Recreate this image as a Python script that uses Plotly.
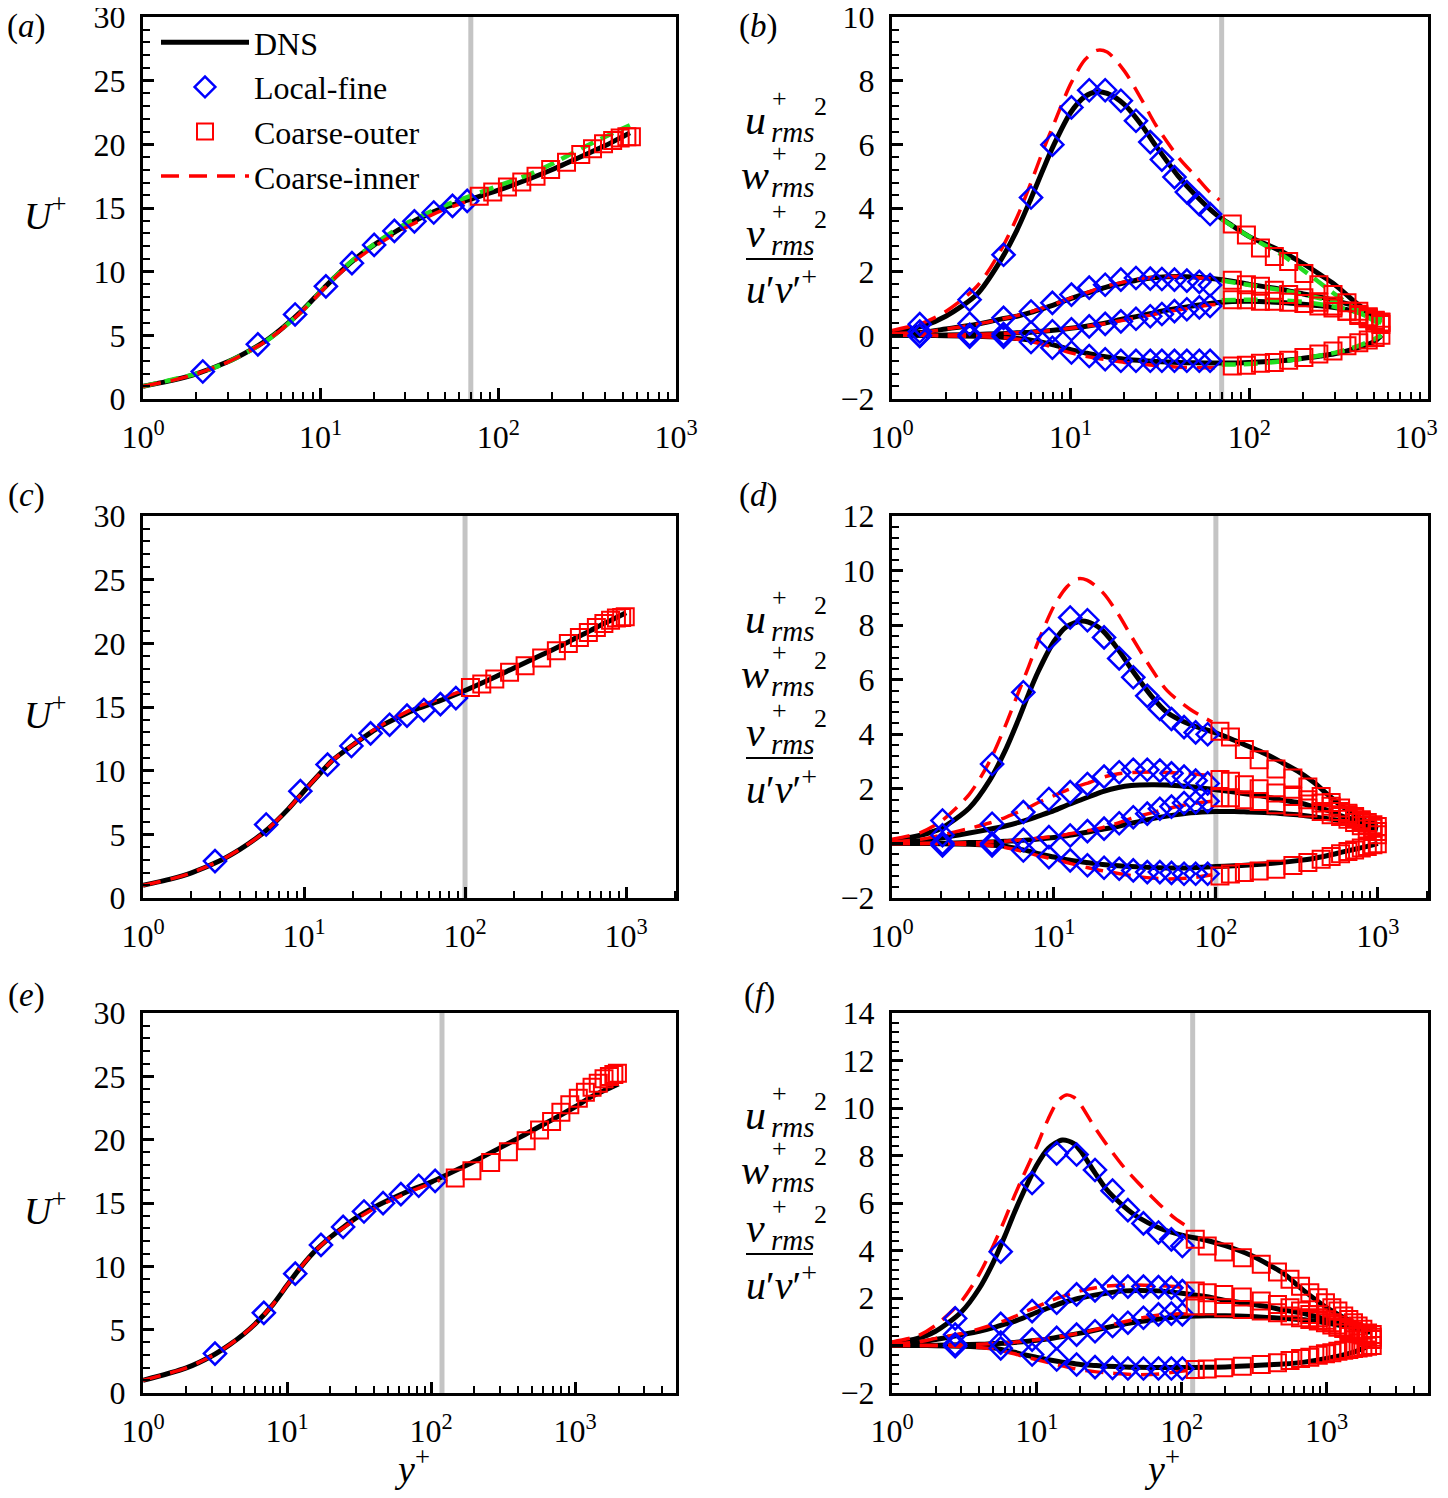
import plotly.graph_objects as go

# page is shown with the default 8 px body margin: the figure starts 8 px in
# and is sized so that it ends at the window edge
PAGE_W, PAGE_H = 1448, 1498
OFF = 8
W, H = PAGE_W - OFF, PAGE_H - OFF
FONT = "Liberation Serif"

# ── DATA ─────────────────────────────────────────────────────────
# interface location y+ per Reynolds number (grey line)
iface = [70, 100, 119]

# (a) mean velocity, Re_tau ~ 550
a_dns_y = [1, 1.5, 2, 3, 4, 5, 6, 8, 10, 12, 15, 20, 25, 30, 40, 50, 70, 100, 150, 200, 300, 400, 500, 550]
a_dns_u = [1.0, 1.5, 1.98, 2.92, 3.82, 4.65, 5.5, 7.05, 8.45, 9.55, 10.8, 12.1, 12.95, 13.6, 14.5, 15.05, 15.7, 16.4, 17.3, 18.0, 19.1, 19.9, 20.6, 20.9]
a_inner_y = [1, 1.5, 2, 3, 4, 5, 6, 8, 10, 12, 15, 20, 25, 30, 40, 50, 65]
a_inner_u = [1.0, 1.5, 1.98, 2.9, 3.8, 4.6, 5.45, 7.0, 8.4, 9.5, 10.7, 11.95, 12.8, 13.45, 14.3, 14.9, 15.45]
a_green_y = [1, 2, 3, 5, 8, 10, 15, 20, 30, 50, 70, 100, 150, 200, 300, 400, 550]
a_green_u = [1.0, 2.0, 2.9, 4.6, 7.0, 8.45, 10.85, 12.15, 13.75, 15.2, 15.95, 16.75, 17.65, 18.45, 19.75, 20.6, 21.5]
a_fine_y = [2.17, 4.43, 7.18, 10.7, 15.0, 20.0, 26.0, 33.7, 43.3, 55.2, 66.8]
a_fine_u = [2.16, 4.29, 6.64, 8.85, 10.67, 12.1, 13.2, 13.95, 14.65, 15.17, 15.56]
a_outer_y = [78.1, 93, 112.5, 135.5, 163, 197, 242, 291, 339, 391, 440, 485, 529, 561]
a_outer_u = [15.93, 16.26, 16.65, 17.04, 17.5, 18.03, 18.6, 19.2, 19.65, 20.04, 20.3, 20.5, 20.6, 20.6]

# (b) Reynolds stresses, Re_tau ~ 550
b_dns_y = [1, 1.5, 2, 3, 4, 5, 6, 7, 8, 10, 12, 14, 16, 20, 25, 30, 40, 50, 65, 80, 100, 150, 200, 250, 300, 400, 500, 550]
b_dns_uu = [0.1, 0.3, 0.6, 1.3, 2.3, 3.3, 4.3, 5.2, 5.95, 7.0, 7.5, 7.65, 7.6, 7.25, 6.6, 5.95, 5.0, 4.4, 3.8, 3.45, 3.1, 2.65, 2.25, 1.9, 1.6, 1.0, 0.6, 0.5]
b_dns_ww = [0.05, 0.1, 0.2, 0.35, 0.5, 0.6, 0.72, 0.84, 0.95, 1.15, 1.3, 1.42, 1.52, 1.65, 1.76, 1.82, 1.85, 1.83, 1.77, 1.7, 1.6, 1.45, 1.3, 1.2, 1.1, 0.9, 0.7, 0.6]
b_dns_vv = [0.0, 0.0, 0.01, 0.03, 0.05, 0.08, 0.1, 0.13, 0.16, 0.22, 0.28, 0.34, 0.4, 0.52, 0.62, 0.72, 0.85, 0.94, 1.02, 1.06, 1.07, 1.03, 0.98, 0.93, 0.87, 0.75, 0.62, 0.55]
b_dns_uv = [0.0, 0.0, -0.01, -0.03, -0.05, -0.1, -0.15, -0.22, -0.3, -0.45, -0.55, -0.63, -0.68, -0.75, -0.79, -0.82, -0.85, -0.86, -0.87, -0.87, -0.85, -0.8, -0.72, -0.65, -0.58, -0.4, -0.2, 0.0]
b_inner_y = [1, 1.5, 2, 3, 4, 5, 6, 7, 8, 10, 12, 14, 16, 20, 25, 30, 40, 50, 60, 68]
b_inner_uu = [0.15, 0.4, 0.75, 1.55, 2.6, 3.7, 4.8, 5.8, 6.6, 7.9, 8.65, 8.95, 8.9, 8.3, 7.4, 6.6, 5.6, 5.0, 4.5, 4.25]
b_inner_ww = [0.05, 0.1, 0.2, 0.35, 0.5, 0.62, 0.74, 0.86, 0.97, 1.17, 1.32, 1.45, 1.55, 1.68, 1.78, 1.83, 1.85, 1.82, 1.78, 1.75]
b_inner_vv = [0.0, 0.0, 0.01, 0.03, 0.05, 0.08, 0.1, 0.13, 0.16, 0.22, 0.28, 0.33, 0.38, 0.48, 0.58, 0.67, 0.8, 0.88, 0.95, 0.98]
b_inner_uv = [0.0, 0.0, -0.02, -0.04, -0.07, -0.12, -0.2, -0.28, -0.38, -0.55, -0.65, -0.72, -0.77, -0.85, -0.9, -0.95, -1.0, -1.02, -1.02, -1.02]
b_green_y = [70, 100, 150, 200, 300, 400, 500, 550]
b_green_uu = [3.65, 3.1, 2.55, 2.05, 1.3, 0.8, 0.45, 0.35]
b_green_ww = [1.72, 1.58, 1.42, 1.28, 1.05, 0.8, 0.6, 0.5]
b_green_vv = [1.1, 1.12, 1.1, 1.05, 0.9, 0.72, 0.5, 0.4]
b_green_uv = [-0.92, -0.9, -0.82, -0.72, -0.55, -0.35, -0.12, 0.0]
b_fine_y = [1.43, 2.72, 4.21, 6.0, 7.9, 10.1, 12.7, 15.6, 19.1, 23.2, 27.9, 32.4, 38.1, 44.7, 52.5, 60.3]
b_fine_uu = [0.35, 1.12, 2.53, 4.33, 5.99, 7.16, 7.7, 7.7, 7.37, 6.74, 6.07, 5.52, 4.97, 4.5, 4.12, 3.81]
b_fine_ww = [0.12, 0.37, 0.55, 0.75, 1.02, 1.28, 1.5, 1.59, 1.75, 1.8, 1.78, 1.77, 1.75, 1.72, 1.68, 1.58]
b_fine_vv = [0.0, 0.02, 0.04, 0.08, 0.13, 0.19, 0.28, 0.36, 0.44, 0.52, 0.6, 0.67, 0.76, 0.82, 0.88, 0.92]
b_fine_uv = [-0.02, -0.04, -0.04, -0.21, -0.39, -0.54, -0.65, -0.75, -0.8, -0.8, -0.8, -0.8, -0.8, -0.8, -0.8, -0.8]
b_outer_y = [80.3, 96.3, 115.4, 138, 166, 202, 245, 294, 352, 410, 463, 506, 545]
b_outer_uu = [3.5, 3.15, 2.74, 2.48, 2.32, 1.94, 1.59, 1.28, 1.02, 0.76, 0.58, 0.47, 0.4]
b_outer_ww = [1.73, 1.59, 1.54, 1.42, 1.28, 1.18, 1.04, 0.92, 0.76, 0.62, 0.52, 0.45, 0.42]
b_outer_vv = [1.12, 1.12, 1.07, 1.07, 1.04, 1.0, 0.92, 0.86, 0.76, 0.66, 0.55, 0.45, 0.34]
b_outer_uv = [-0.96, -0.94, -0.88, -0.85, -0.78, -0.7, -0.59, -0.49, -0.33, -0.23, -0.15, -0.07, 0.0]

# (c) mean velocity, Re_tau ~ 1000
c_dns_y = [1, 1.5, 2, 3, 4, 5, 6, 8, 10, 12, 15, 20, 25, 30, 40, 50, 70, 100, 150, 200, 300, 400, 500, 600, 700, 800, 1000]
c_dns_u = [1.0, 1.5, 1.98, 2.92, 3.82, 4.65, 5.45, 7.0, 8.4, 9.5, 10.8, 12.0, 12.85, 13.5, 14.3, 14.85, 15.5, 16.3, 17.3, 18.05, 19.1, 19.85, 20.5, 21.0, 21.45, 21.8, 22.4]
c_inner_y = [1, 1.5, 2, 3, 4, 5, 6, 8, 10, 12, 15, 20, 25, 30, 40, 50, 70, 100]
c_inner_u = [1.0, 1.5, 1.98, 2.92, 3.82, 4.65, 5.45, 7.0, 8.4, 9.5, 10.8, 12.0, 12.9, 13.55, 14.4, 15.0, 15.65, 16.35]
c_fine_y = [2.8, 5.82, 9.49, 14.0, 19.7, 25.9, 34.0, 43.6, 55.5, 70.3, 87.7]
c_fine_u = [2.9, 5.77, 8.39, 10.48, 11.94, 12.93, 13.61, 14.32, 14.76, 15.23, 15.7]
c_outer_y = [108, 127, 153, 189, 236, 299, 369, 438, 513, 583, 654, 728, 801, 871, 939, 988]
c_outer_u = [16.54, 16.8, 17.19, 17.72, 18.24, 18.84, 19.42, 19.99, 20.46, 20.85, 21.24, 21.56, 21.82, 21.98, 22.03, 22.08]

# (d) Reynolds stresses, Re_tau ~ 1000
d_dns_y = [1, 1.5, 2, 3, 4, 5, 6, 7, 8, 10, 12, 15, 18, 20, 25, 30, 40, 50, 70, 100, 130, 160, 200, 250, 320, 400, 500, 600, 700, 850, 1000]
d_dns_uu = [0.1, 0.3, 0.55, 1.3, 2.3, 3.4, 4.5, 5.5, 6.3, 7.4, 7.95, 8.15, 8.0, 7.8, 7.1, 6.4, 5.4, 4.8, 4.35, 4.05, 3.78, 3.55, 3.3, 3.0, 2.65, 2.25, 1.75, 1.36, 1.1, 0.82, 0.7]
d_dns_ww = [0.05, 0.1, 0.2, 0.38, 0.52, 0.64, 0.76, 0.88, 1.0, 1.2, 1.4, 1.62, 1.8, 1.9, 2.05, 2.12, 2.15, 2.14, 2.08, 1.97, 1.88, 1.8, 1.72, 1.6, 1.5, 1.35, 1.2, 1.0, 0.88, 0.7, 0.55]
d_dns_vv = [0.0, 0.0, 0.01, 0.03, 0.05, 0.08, 0.1, 0.13, 0.16, 0.22, 0.28, 0.38, 0.47, 0.52, 0.63, 0.74, 0.9, 1.0, 1.12, 1.17, 1.17, 1.15, 1.13, 1.1, 1.05, 0.98, 0.9, 0.82, 0.74, 0.6, 0.5]
d_dns_uv = [0.0, 0.0, -0.01, -0.03, -0.06, -0.1, -0.2, -0.28, -0.38, -0.5, -0.6, -0.68, -0.74, -0.77, -0.82, -0.85, -0.88, -0.9, -0.9, -0.85, -0.82, -0.79, -0.75, -0.7, -0.63, -0.55, -0.43, -0.32, -0.23, -0.12, 0.0]
d_inner_y = [1, 1.5, 2, 3, 4, 5, 6, 7, 8, 10, 12, 14, 16, 20, 25, 30, 40, 50, 70, 95]
d_inner_uu = [0.15, 0.4, 0.8, 1.8, 3.0, 4.3, 5.5, 6.5, 7.4, 8.7, 9.4, 9.7, 9.65, 9.2, 8.4, 7.6, 6.4, 5.6, 4.9, 4.45]
d_inner_ww = [0.05, 0.15, 0.3, 0.55, 0.75, 0.95, 1.15, 1.32, 1.5, 1.75, 1.95, 2.1, 2.2, 2.42, 2.55, 2.6, 2.62, 2.6, 2.55, 2.48]
d_inner_vv = [0.0, 0.0, 0.01, 0.03, 0.05, 0.08, 0.12, 0.15, 0.19, 0.26, 0.33, 0.4, 0.46, 0.58, 0.75, 0.92, 1.12, 1.27, 1.45, 1.55]
d_inner_uv = [0.0, 0.0, -0.01, -0.04, -0.08, -0.15, -0.25, -0.35, -0.45, -0.58, -0.7, -0.8, -0.88, -1.0, -1.1, -1.18, -1.27, -1.3, -1.26, -1.15]
d_fine_y = [2.05, 4.15, 6.47, 9.31, 12.6, 16.1, 20.4, 25.3, 30.9, 37.7, 45.1, 53.2, 63.6, 75, 89]
d_fine_uu = [0.84, 2.91, 5.54, 7.49, 8.28, 8.18, 7.55, 6.78, 6.09, 5.41, 4.93, 4.56, 4.26, 4.07, 4.0]
d_fine_ww = [0.3, 0.72, 1.15, 1.63, 1.88, 2.18, 2.45, 2.61, 2.7, 2.7, 2.67, 2.57, 2.45, 2.3, 2.2]
d_fine_vv = [0.01, 0.0, 0.13, 0.23, 0.29, 0.45, 0.54, 0.74, 0.96, 1.09, 1.27, 1.35, 1.48, 1.51, 1.55]
d_fine_uv = [-0.07, -0.07, -0.26, -0.5, -0.62, -0.8, -0.89, -0.93, -0.99, -1.05, -1.05, -1.08, -1.11, -1.11, -1.11]
d_outer_y = [106, 123, 150, 185, 235, 299, 370, 447, 515, 589, 654, 719, 791, 861, 933, 993]
d_outer_uu = [4.11, 3.9, 3.44, 3.07, 2.73, 2.4, 2.07, 1.72, 1.5, 1.3, 1.11, 0.99, 0.87, 0.77, 0.68, 0.62]
d_outer_ww = [2.34, 2.28, 2.15, 2.0, 1.85, 1.72, 1.6, 1.48, 1.36, 1.17, 1.05, 0.93, 0.8, 0.68, 0.56, 0.44]
d_outer_vv = [1.67, 1.67, 1.6, 1.54, 1.42, 1.36, 1.3, 1.17, 1.05, 0.99, 0.89, 0.77, 0.65, 0.53, 0.44, 0.32]
d_outer_uv = [-1.19, -1.12, -1.07, -1.01, -0.95, -0.81, -0.7, -0.58, -0.48, -0.38, -0.3, -0.24, -0.17, -0.11, -0.05, -0.01]

# (e) mean velocity, Re_tau ~ 2000
e_dns_y = [1, 2, 3, 4, 5, 6, 8, 10, 12, 15, 20, 25, 30, 40, 50, 70, 100, 150, 200, 300, 400, 500, 700, 1000, 1300, 1600, 2000]
e_dns_u = [1.0, 1.98, 2.92, 3.82, 4.65, 5.45, 7.0, 8.5, 9.7, 11.0, 12.3, 13.15, 13.8, 14.65, 15.2, 15.95, 16.65, 17.6, 18.3, 19.35, 20.1, 20.7, 21.6, 22.6, 23.4, 23.9, 24.4]
e_inner_y = [1, 2, 3, 4, 5, 6, 8, 10, 12, 15, 20, 25, 30, 40, 50, 70, 100, 115]
e_inner_u = [1.0, 1.98, 2.92, 3.82, 4.65, 5.45, 7.0, 8.5, 9.7, 11.0, 12.3, 13.1, 13.7, 14.55, 15.1, 15.85, 16.55, 16.8]
e_fine_y = [3.16, 6.9, 11.4, 17.2, 24.5, 34.2, 46.4, 61.7, 82, 106.6]
e_fine_u = [3.11, 6.33, 9.42, 11.69, 13.11, 14.33, 14.99, 15.7, 16.36, 16.75]
e_outer_y = [147, 192, 259, 344, 457, 566, 686, 796, 918, 1052, 1178, 1310, 1446, 1586, 1728, 1856, 1965]
e_outer_u = [16.97, 17.55, 18.2, 19.05, 19.92, 20.77, 21.43, 22.17, 22.75, 23.27, 23.75, 24.14, 24.46, 24.8, 24.99, 25.15, 25.25]

# (f) Reynolds stresses, Re_tau ~ 2000
f_dns_y = [1, 1.5, 2, 3, 4, 5, 6, 7, 8, 10, 12, 15, 18, 20, 25, 30, 40, 50, 70, 100, 150, 200, 300, 400, 500, 700, 1000, 1500, 2000]
f_dns_uu = [0.1, 0.3, 0.6, 1.4, 2.4, 3.5, 4.6, 5.6, 6.4, 7.6, 8.3, 8.65, 8.5, 8.2, 7.3, 6.6, 5.85, 5.4, 4.95, 4.65, 4.42, 4.2, 3.8, 3.4, 3.05, 2.3, 1.6, 1.0, 0.7]
f_dns_ww = [0.05, 0.12, 0.25, 0.45, 0.6, 0.75, 0.9, 1.02, 1.15, 1.4, 1.58, 1.8, 1.93, 2.0, 2.12, 2.2, 2.3, 2.32, 2.3, 2.2, 2.05, 1.9, 1.75, 1.62, 1.5, 1.35, 1.1, 0.8, 0.6]
f_dns_vv = [0.0, 0.0, 0.01, 0.03, 0.05, 0.08, 0.1, 0.13, 0.16, 0.22, 0.28, 0.38, 0.47, 0.52, 0.64, 0.75, 0.9, 1.0, 1.12, 1.22, 1.25, 1.25, 1.22, 1.18, 1.15, 1.08, 0.95, 0.75, 0.55]
f_dns_uv = [0.0, 0.0, -0.01, -0.03, -0.06, -0.1, -0.2, -0.28, -0.38, -0.5, -0.6, -0.7, -0.76, -0.8, -0.84, -0.87, -0.9, -0.92, -0.93, -0.93, -0.92, -0.9, -0.85, -0.81, -0.78, -0.7, -0.55, -0.3, 0.0]
f_inner_y = [1, 1.5, 2, 3, 4, 5, 6, 7, 8, 10, 12, 14, 16, 18, 20, 25, 30, 40, 50, 70, 90, 110]
f_inner_uu = [0.15, 0.4, 0.85, 1.85, 3.0, 4.2, 5.3, 6.3, 7.1, 8.4, 9.55, 10.3, 10.55, 10.45, 10.15, 9.2, 8.5, 7.5, 6.85, 5.95, 5.35, 5.0]
f_inner_ww = [0.05, 0.15, 0.3, 0.5, 0.7, 0.88, 1.05, 1.22, 1.38, 1.63, 1.85, 2.0, 2.12, 2.22, 2.3, 2.42, 2.5, 2.55, 2.55, 2.52, 2.48, 2.42]
f_inner_vv = [0.0, 0.0, 0.01, 0.03, 0.05, 0.08, 0.11, 0.14, 0.18, 0.24, 0.3, 0.36, 0.42, 0.48, 0.53, 0.66, 0.8, 1.0, 1.13, 1.28, 1.33, 1.33]
f_inner_uv = [0.0, 0.0, -0.01, -0.04, -0.08, -0.15, -0.25, -0.35, -0.45, -0.6, -0.72, -0.82, -0.9, -0.97, -1.02, -1.1, -1.15, -1.2, -1.23, -1.2, -1.12, -1.05]
f_fine_y = [2.73, 5.63, 9.27, 13.7, 18.8, 25.2, 33.3, 42.5, 54.4, 69.1, 84.8, 101]
f_fine_uu = [1.14, 3.95, 6.84, 8.09, 8.04, 7.39, 6.52, 5.7, 5.14, 4.76, 4.47, 4.19]
f_fine_ww = [0.46, 0.91, 1.45, 1.8, 2.15, 2.32, 2.46, 2.48, 2.48, 2.46, 2.43, 2.29]
f_fine_vv = [0.05, 0.12, 0.25, 0.32, 0.46, 0.6, 0.82, 0.96, 1.17, 1.31, 1.34, 1.31]
f_fine_uv = [-0.03, -0.12, -0.38, -0.59, -0.8, -0.91, -0.94, -0.97, -0.97, -0.97, -0.97, -0.97]
f_outer_y = [124, 150, 195, 262, 354, 458, 559, 661, 766, 876, 982, 1087, 1197, 1313, 1424, 1533, 1650, 1780, 1917, 2065]
f_outer_uu = [4.47, 4.19, 3.94, 3.7, 3.42, 3.1, 2.79, 2.5, 2.22, 2.01, 1.8, 1.59, 1.45, 1.24, 1.1, 0.96, 0.82, 0.68, 0.53, 0.46]
f_outer_ww = [2.29, 2.22, 2.15, 2.04, 1.87, 1.73, 1.59, 1.45, 1.31, 1.17, 1.06, 0.96, 0.86, 0.77, 0.68, 0.61, 0.53, 0.46, 0.39, 0.35]
f_outer_vv = [1.66, 1.66, 1.59, 1.52, 1.45, 1.38, 1.24, 1.17, 1.1, 1.03, 0.96, 0.86, 0.77, 0.72, 0.63, 0.58, 0.49, 0.44, 0.35, 0.25]
f_outer_uv = [-1.01, -0.99, -0.94, -0.87, -0.8, -0.73, -0.63, -0.55, -0.49, -0.41, -0.35, -0.31, -0.24, -0.2, -0.17, -0.13, -0.1, -0.07, -0.03, 0.0]

x_tickvals = [1, 10, 100, 1000]
x_ticktext = ['10<sup>0</sup>', '10<sup>1</sup>', '10<sup>2</sup>', '10<sup>3</sup>']
# panel (b): last label nudged left so it stays inside the page
x_ticktext_b = ['10<sup>0</sup>', '10<sup>1</sup>', '10<sup>2</sup>', '10<sup>3</sup>\u00a0\u00a0\u00a0']

# ── STYLES ───────────────────────────────────────────────────────
BLACK = dict(color='black', width=5)
RED_DASH = dict(color='#ff0000', width=3.5, dash='18px,10px')
GREEN_DASH = dict(color='#22dd22', width=4.5, dash='14px,8px')
DIAMOND = dict(symbol='diamond-open', size=17, color='#0000ff', line=dict(width=2.5, color='#0000ff'))
SQUARE = dict(symbol='square-open', size=17, color='#ff0000', line=dict(width=2, color='#ff0000'))

fig = go.Figure()


def px_x(x):
    return (x - OFF) / W


def px_y(y):
    return 1 - (y - OFF) / H


def add_line(n, x, y, style, name=None, rank=None):
    sfx = '' if n == 1 else str(n)
    fig.add_trace(go.Scatter(
        x=x, y=y, mode='lines', line=dict(shape='spline', smoothing=0.8, **style),
        xaxis='x' + sfx, yaxis='y' + sfx, name=name, showlegend=name is not None,
        legendgroup=name, legendrank=rank or 1000, hoverinfo='skip'))


def add_markers(n, x, y, marker, name=None, rank=None):
    sfx = '' if n == 1 else str(n)
    fig.add_trace(go.Scatter(
        x=x, y=y, mode='markers', marker=marker,
        xaxis='x' + sfx, yaxis='y' + sfx, name=name, showlegend=name is not None,
        legendgroup=name, legendrank=rank or 1000, hoverinfo='skip'))


# axis geometry (pixels in the 1448x1498 page)
cols = [(143, 676), (892, 1428)]
rows = [(17, 399), (516, 898), (1013, 1393)]
xranges = [[0, 3], [0, 3.31], [0, 3.7]]

# grey interface lines
for r in range(3):
    for c in range(2):
        n = r * 2 + c + 1
        sfx = '' if n == 1 else str(n)
        fig.add_trace(go.Scatter(
            x=[iface[r], iface[r]], y=[0, 30] if c == 0 else [-2, 14],
            mode='lines', line=dict(color='#c4c4c4', width=5),
            xaxis='x' + sfx, yaxis='y' + sfx, showlegend=False, hoverinfo='skip'))

# (a)
add_line(1, a_dns_y, a_dns_u, BLACK, 'DNS', 1)
add_line(1, a_green_y, a_green_u, GREEN_DASH)
add_line(1, a_inner_y, a_inner_u, RED_DASH, 'Coarse-inner', 4)
add_markers(1, a_fine_y, a_fine_u, DIAMOND, 'Local-fine', 2)
add_markers(1, a_outer_y, a_outer_u, SQUARE, 'Coarse-outer', 3)

# (c), (e)
for n, dy, du, iy, iu, fy, fu, oy, ou in [
        (3, c_dns_y, c_dns_u, c_inner_y, c_inner_u, c_fine_y, c_fine_u, c_outer_y, c_outer_u),
        (5, e_dns_y, e_dns_u, e_inner_y, e_inner_u, e_fine_y, e_fine_u, e_outer_y, e_outer_u)]:
    add_line(n, dy, du, BLACK)
    add_line(n, iy, iu, RED_DASH)
    add_markers(n, fy, fu, DIAMOND)
    add_markers(n, oy, ou, SQUARE)

# (b), (d), (f): four stress components each
stress_panels = [
    (2, b_dns_y, [b_dns_uu, b_dns_ww, b_dns_vv, b_dns_uv],
     b_inner_y, [b_inner_uu, b_inner_ww, b_inner_vv, b_inner_uv],
     b_fine_y, [b_fine_uu, b_fine_ww, b_fine_vv, b_fine_uv],
     b_outer_y, [b_outer_uu, b_outer_ww, b_outer_vv, b_outer_uv]),
    (4, d_dns_y, [d_dns_uu, d_dns_ww, d_dns_vv, d_dns_uv],
     d_inner_y, [d_inner_uu, d_inner_ww, d_inner_vv, d_inner_uv],
     d_fine_y, [d_fine_uu, d_fine_ww, d_fine_vv, d_fine_uv],
     d_outer_y, [d_outer_uu, d_outer_ww, d_outer_vv, d_outer_uv]),
    (6, f_dns_y, [f_dns_uu, f_dns_ww, f_dns_vv, f_dns_uv],
     f_inner_y, [f_inner_uu, f_inner_ww, f_inner_vv, f_inner_uv],
     f_fine_y, [f_fine_uu, f_fine_ww, f_fine_vv, f_fine_uv],
     f_outer_y, [f_outer_uu, f_outer_ww, f_outer_vv, f_outer_uv]),
]
for n, dy, dv, iy, iv, fy, fv, oy, ov in stress_panels:
    for v in dv:
        add_line(n, dy, v, BLACK)
    if n == 2:
        for v in [b_green_uu, b_green_ww, b_green_vv, b_green_uv]:
            add_line(n, b_green_y, v, GREEN_DASH)
    for v in iv:
        add_line(n, iy, v, RED_DASH)
    for v in fv:
        add_markers(n, fy, v, DIAMOND)
    for v in ov:
        add_markers(n, oy, v, SQUARE)

# ── AXES ─────────────────────────────────────────────────────────
tickfont = dict(family=FONT, size=32, color='black')
axis_common = dict(showline=True, linewidth=3, linecolor='black', mirror=True,
                   showgrid=False, zeroline=False, ticks='inside', ticklen=11,
                   tickwidth=2.5, tickcolor='black', tickfont=tickfont,
                   ticklabelstandoff=8, automargin=False, ticklabeloverflow='allow')
layout_axes = {}
for r in range(3):
    for c in range(2):
        n = r * 2 + c + 1
        sfx = '' if n == 1 else str(n)
        x0, x1 = cols[c]
        y0, y1 = rows[r]
        layout_axes['xaxis' + sfx] = dict(
            axis_common, type='log', domain=[px_x(x0), px_x(x1)],
            range=xranges[r], tickvals=x_tickvals,
            ticktext=x_ticktext_b if n == 2 else x_ticktext,
            anchor='y' + sfx,
            minor=dict(ticks='inside', ticklen=7, tickwidth=2, tickcolor='black', dtick='D1'))
        if c == 0:
            yr, dt, mdt = [0, 30], 5, 1
        else:
            yr, dt, mdt = [-2, [10, 12, 14][r]], 2, 0.4
        layout_axes['yaxis' + sfx] = dict(
            axis_common, domain=[px_y(y1), px_y(y0)], range=yr, dtick=dt, tick0=0,
            anchor='x' + sfx,
            minor=dict(ticks='inside', ticklen=7, tickwidth=2, tickcolor='black',
                       dtick=mdt, tick0=0))

fig.update_layout(**layout_axes)

# ── TEXT ─────────────────────────────────────────────────────────
ann = []
shapes = []


def text(x, y, s, size=31, **kw):
    ann.append(dict(x=px_x(x), y=px_y(y), xref='paper', yref='paper', text=s,
                    showarrow=False, font=dict(family=FONT, size=size, color='black'),
                    xanchor='center', yanchor='middle', **kw))


for lab, x, y in [('a', 26, 26), ('b', 758, 26), ('c', 26, 495),
                  ('d', 758, 495), ('e', 26, 995), ('f', 759, 995)]:
    text(x, y, '(<i>%s</i>)' % lab, 33)

for r in range(3):
    yc = (rows[r][0] + rows[r][1]) / 2
    text(45, yc + 5, '<i>U</i><sup>+</sup>', 38)
    # stacked labels for the stress panels
    for letter, dy in [('u', -88), ('w', -33), ('v', 25)]:
        text(755, yc + dy, '<i>%s</i>' % letter, 42)
        text(779, yc + dy - 22, '+', 26)
        text(793, yc + dy + 12, '<i>rms</i>', 29)
        text(820, yc + dy - 14, '2', 26)
    shapes.append(dict(type='line', xref='paper', yref='paper',
                       x0=px_x(746), x1=px_x(813), y0=px_y(yc + 51), y1=px_y(yc + 51),
                       line=dict(color='black', width=2)))
    text(781, yc + 79, '<i>u</i>′<i>v</i>′<sup>+</sup>', 40)

text(412, 1466, '<i>y</i><sup>+</sup>', 38)
text(1162, 1466, '<i>y</i><sup>+</sup>', 38)

fig.update_layout(
    width=W, height=H,
    margin=dict(l=0, r=0, t=0, b=0, autoexpand=False),
    paper_bgcolor='white', plot_bgcolor='white',
    annotations=ann, shapes=shapes,
    legend=dict(x=px_x(156), y=px_y(15), xanchor='left', yanchor='top',
                font=dict(family=FONT, size=32, color='black'),
                bgcolor='rgba(0,0,0,0)', tracegroupgap=0, itemwidth=88),
)

fig.write_html("out.html")
